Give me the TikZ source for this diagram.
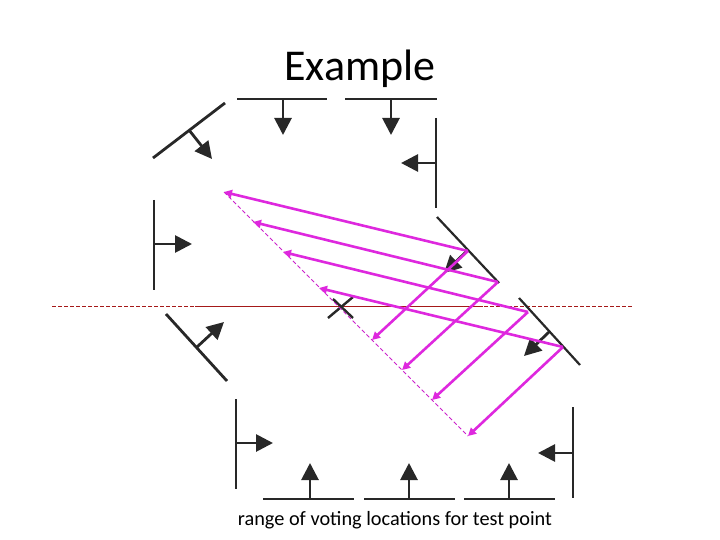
\documentclass[tikz,border=0pt]{standalone}
\usepackage{fontspec}
\setmainfont{Carlito}
\usetikzlibrary{arrows.meta}
\definecolor{mag}{RGB}{222,40,222}
\definecolor{redl}{RGB}{165,25,25}
\definecolor{wallc}{RGB}{40,40,40}
\begin{document}
\begin{tikzpicture}[x=1pt,y=-1pt,
  wallline/.style={line width=2.8pt, draw=wallc},
  normalarrow/.style={line width=2.8pt, draw=wallc, -{Triangle[length=17pt,width=17pt]}},
  votearrow/.style={line width=2.6pt, draw=mag, -{Triangle[length=8pt,width=8pt]}},
  rangeline/.style={line width=0.9pt, draw=mag!80!violet, dash pattern=on 4pt off 2.5pt},
  txt/.style={inner sep=0pt, anchor=base}
]
\useasboundingbox (0,0) rectangle (720,540);

% title and caption
\node[txt, font=\fontsize{44}{52}\selectfont] (title) at (360,81) {Example};
\node[txt, font=\fontsize{20.3}{24}\selectfont] (caption) at (395,525) {range of voting locations for test point};

% horizon line
\coordinate (h1) at (52,306);
\coordinate (h2) at (632,306);
\coordinate (h3) at (195,306);
\coordinate (h4) at (483,306);
\draw[redl, line width=0.8pt, dash pattern=on 4pt off 2pt] (h1) -- (h2);
\draw[redl, line width=0.8pt] (h3) -- (h4);

% walls with normals
\coordinate (a1) at (153,158); \coordinate (a2) at (225,103);
\coordinate (an) at (189,130); \coordinate (atip) at (212,159);
\draw[wallline] (a1) -- (a2); \draw[normalarrow] (an) -- (atip);
\coordinate (b1) at (237,99); \coordinate (b2) at (327,99);
\coordinate (bn) at (283,99); \coordinate (btip) at (283,135);
\draw[wallline] (b1) -- (b2); \draw[normalarrow] (bn) -- (btip);
\coordinate (c1) at (345,99); \coordinate (c2) at (437,99);
\coordinate (cn) at (391,99); \coordinate (ctip) at (391,135);
\draw[wallline] (c1) -- (c2); \draw[normalarrow] (cn) -- (ctip);
\coordinate (d1) at (436,118); \coordinate (d2) at (436,208);
\coordinate (dn) at (436,163); \coordinate (dtip) at (401,163);
\draw[wallline] (d1) -- (d2); \draw[normalarrow] (dn) -- (dtip);
\coordinate (e1) at (154,200); \coordinate (e2) at (154,290);
\coordinate (en) at (154,244); \coordinate (etip) at (192,244);
\draw[wallline] (e1) -- (e2); \draw[normalarrow] (en) -- (etip);
\coordinate (f1) at (166,314); \coordinate (f2) at (227,381);
\coordinate (fn) at (197,347); \coordinate (ftip) at (224,322);
\draw[wallline] (f1) -- (f2); \draw[normalarrow] (fn) -- (ftip);
\coordinate (g1) at (236,399); \coordinate (g2) at (236,489);
\coordinate (gn) at (236,443); \coordinate (gtip) at (273,443);
\draw[wallline] (g1) -- (g2); \draw[normalarrow] (gn) -- (gtip);
\coordinate (i1) at (263,499); \coordinate (i2) at (354,499);
\coordinate (ibase) at (310,499); \coordinate (itip) at (310,463);
\draw[wallline] (i1) -- (i2); \draw[normalarrow] (ibase) -- (itip);
\coordinate (j1) at (364,499); \coordinate (j2) at (455,499);
\coordinate (jn) at (409,499); \coordinate (jtip) at (409,463);
\draw[wallline] (j1) -- (j2); \draw[normalarrow] (jn) -- (jtip);
\coordinate (k1) at (464,499); \coordinate (k2) at (555,499);
\coordinate (kn) at (509,499); \coordinate (ktip) at (509,463);
\draw[wallline] (k1) -- (k2); \draw[normalarrow] (kn) -- (ktip);
\coordinate (l1) at (573,407); \coordinate (l2) at (573,498);
\coordinate (ln) at (573,453); \coordinate (ltip) at (538,453);
\draw[wallline] (l1) -- (l2); \draw[normalarrow] (ln) -- (ltip);
\coordinate (m1) at (437,217); \coordinate (m2) at (499,283);
\coordinate (mn) at (468,250); \coordinate (mtip) at (444,273);
\draw[wallline, line width=2.2pt] (m1) -- (m2); \draw[normalarrow] (mn) -- (mtip);
\coordinate (n1) at (519,298); \coordinate (n2) at (580,365);
\coordinate (nn) at (549,332); \coordinate (ntip) at (524,356);
\draw[wallline, line width=2.2pt] (n1) -- (n2); \draw[normalarrow] (nn) -- (ntip);

% test point cross
\coordinate (x1) at (328,318); \coordinate (x2) at (353,297);
\coordinate (x3) at (333,299); \coordinate (x4) at (353,318);
\draw[wallc, line width=2.4pt] (x1) -- (x2);
\draw[wallc, line width=2.4pt] (x3) -- (x4);

% voting arrows
\coordinate (P1) at (468,251); \coordinate (P2) at (498,282);
\coordinate (P3) at (528,312); \coordinate (P4) at (563,347);
\coordinate (L1) at (224,192); \coordinate (L2) at (253,222);
\coordinate (L3) at (283,252); \coordinate (L4) at (319,288);
\coordinate (D1) at (372,340); \coordinate (D2) at (402,370);
\coordinate (D3) at (432,400); \coordinate (D4) at (468,436);
\draw[rangeline] (L1) -- (D4);
\foreach \i in {1,2,3,4} {
  \draw[votearrow] (P\i) -- (L\i);
  \draw[votearrow] (P\i) -- (D\i);
}
\end{tikzpicture}
\end{document}
